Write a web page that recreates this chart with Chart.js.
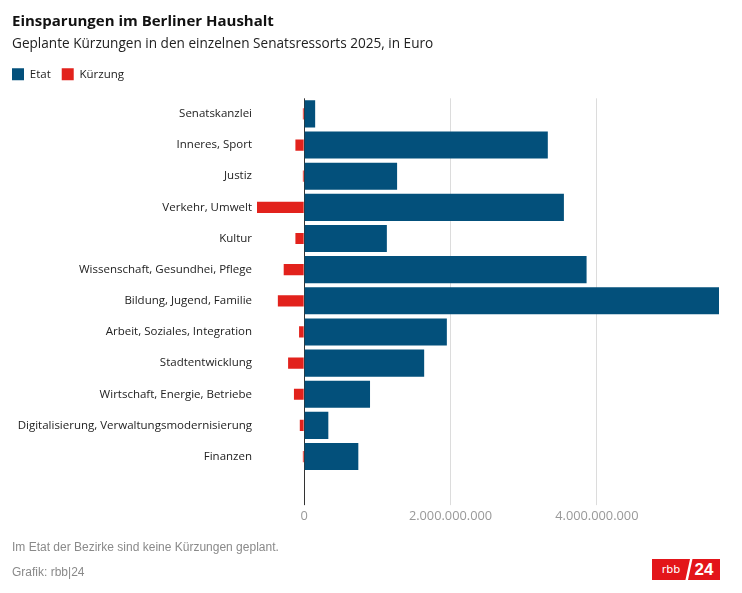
<!DOCTYPE html>
<html><head><meta charset="utf-8">
<script src="https://cdn.jsdelivr.net/npm/chart.js@4"></script>
<style>
body{margin:0;background:#fff;}
#wrap{position:relative;width:742px;height:593px;overflow:hidden;}
#c{position:absolute;left:0;top:0;}
.foot{position:absolute;left:12px;font-family:"Liberation Sans",sans-serif;font-size:12px;color:#8a8a8a;}
#logo{position:absolute;left:652px;top:559px;height:21px;width:68px;}
#logo .a{position:absolute;left:0;top:0;width:38px;height:21px;background:#e3151a;color:#fff;font:11px "DejaVu Sans",sans-serif;line-height:21px;text-align:center;clip-path:polygon(0 0,100% 0,88% 100%,0 100%);}
#logo .b{position:absolute;left:36px;top:0;width:32px;height:21px;background:#e3151a;color:#fff;font:bold 17px "Liberation Sans",sans-serif;line-height:21px;text-align:center;clip-path:polygon(14% 0,100% 0,100% 100%,0 100%);}
</style></head>
<body>
<div id="wrap">
<canvas id="c" width="742" height="593"></canvas>
<div class="foot" style="top:540px">Im Etat der Bezirke sind keine Kürzungen geplant.</div>
<div class="foot" style="top:565px">Grafik: rbb|24</div>
<div id="logo"><div class="a">rbb</div><div class="b">24</div></div>
</div>
<script>
const categories = ["Senatskanzlei","Inneres, Sport","Justiz","Verkehr, Umwelt","Kultur","Wissenschaft, Gesundhei, Pflege","Bildung, Jugend, Familie","Arbeit, Soziales, Integration","Stadtentwicklung","Wirtschaft, Energie, Betriebe","Digitalisierung, Verwaltungsmodernisierung","Finanzen"];
const etat = [0.15e9,3.33e9,1.27e9,3.55e9,1.13e9,3.86e9,5.67e9,1.95e9,1.64e9,0.90e9,0.33e9,0.74e9];
const kuerzung = [-0.018e9,-0.12e9,-0.018e9,-0.645e9,-0.12e9,-0.28e9,-0.36e9,-0.07e9,-0.22e9,-0.14e9,-0.06e9,-0.018e9];
const tickValues = [0,2e9,4e9];
const tickLabels = ["0","2.000.000.000","4.000.000.000"];

const BLUE = "#03507b", RED = "#e2221c";
const legendShift = {
  id: "legendShift",
  afterLayout(chart) {
    const lg = chart.legend;
    if (lg) { lg.left = 1; lg.top -= 8; lg.bottom -= 8; }
  }
};
new Chart(document.getElementById("c"), {
  type: "bar",
  data: {
    labels: categories,
    datasets: [
      {label:"Etat", data: etat, backgroundColor: BLUE, grouped:false, barPercentage:0.87, categoryPercentage:1},
      {label:"Kürzung", data: kuerzung, backgroundColor: RED, grouped:false, barPercentage:0.36, categoryPercentage:1}
    ]
  },
  plugins: [legendShift],
  options: {
    indexAxis: "y",
    responsive: false,
    animation: false,
    layout: {padding: {left: 12, right: 23, top: 0, bottom: 64.5}},
    plugins: {
      title: {display:true, text:"Einsparungen im Berliner Haushalt", align:"start", color:"#111",
        font:{family:"Open Sans", size:15, weight:"bold"}, padding:{top:13,bottom:5}},
      subtitle: {display:true, text:"Geplante Kürzungen in den einzelnen Senatsressorts 2025, in Euro", align:"start", color:"#222",
        font:{family:"Open Sans", size:13.6}, padding:{top:0,bottom:13}},
      legend: {display:true, align:"start", labels:{boxWidth:12, boxHeight:12, color:"#222", font:{family:"Open Sans", size:11.5}, padding:11}},
      tooltip: {enabled:false}
    },
    scales: {
      x: {
        min: Math.min(...kuerzung), max: Math.max(...etat),
        afterBuildTicks: s => { s.ticks = tickValues.map(v => ({value:v})); },
        ticks: {callback: (v) => tickLabels[tickValues.indexOf(v)], color:"#999", font:{family:"Open Sans", size:12.8}, padding:4, maxRotation:0},
        grid: {color: c => c.tick && c.tick.value === 0 ? "#333" : "#dcdcdc", tickLength: 33, drawOnChartArea:true},
        border: {display:false}
      },
      y: {
        ticks: {color:"#222", font:{family:"Open Sans", size:11.5}, padding:5},
        grid: {display:false, drawTicks:false},
        border: {display:false},
        afterFit: s => { s.width = 245; }
      }
    }
  }
});
</script>
</body></html>
